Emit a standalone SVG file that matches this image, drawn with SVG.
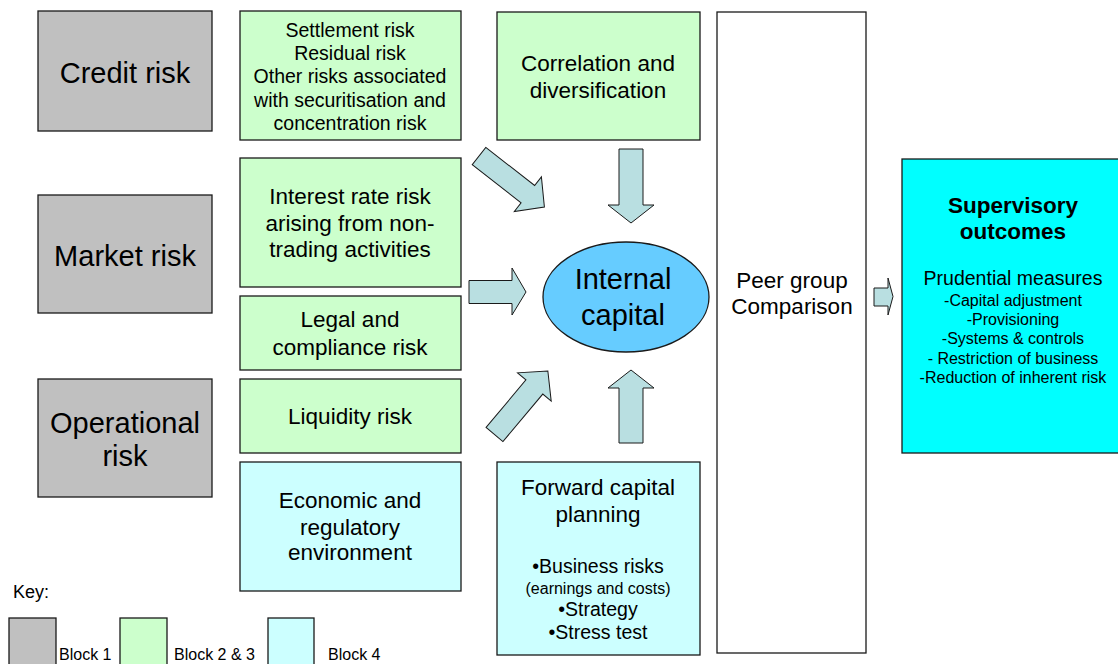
<svg xmlns="http://www.w3.org/2000/svg" width="1118" height="664" viewBox="0 0 1118 664">
<style>
text{font-family:"Liberation Sans",Arial,sans-serif;fill:#000;text-anchor:middle}
.box{stroke:#1a1a1a;stroke-width:1.3}
.b1{fill:#C0C0C0}
.b2{fill:#CCFFCC}
.b4{fill:#CCFFFF}
.arr{fill:#B9DFE1;stroke:#1a1a1a;stroke-width:1}
.big{font-size:29px}
.m21{font-size:22.5px}
.s18{font-size:19.5px}
.k{font-size:16px;text-anchor:start}
</style>
<defs>
<path id="diag" d="M0,-11 L62,-11 L62,-22 L83,0 L62,22 L62,11 L0,11 Z"/>
</defs>
<rect width="1118" height="664" fill="#fff"/>

<g id="credit"><rect class="box b1" x="38" y="11" width="174" height="120"/><text class="big" x="125" y="83">Credit risk</text></g>
<g id="market"><rect class="box b1" x="38" y="195" width="174" height="118"/><text class="big" x="125" y="266">Market risk</text></g>
<g id="operational"><rect class="box b1" x="38" y="379" width="174" height="118"/><text class="big" x="125" y="433">Operational</text><text class="big" x="125" y="466">risk</text></g>

<g id="settlement"><rect class="box b2" x="240" y="11" width="221" height="129"/>
<text class="s18" x="350" y="37">Settlement risk</text>
<text class="s18" x="350" y="60">Residual risk</text>
<text class="s18" x="350" y="83">Other risks associated</text>
<text class="s18" x="350" y="107">with securitisation and</text>
<text class="s18" x="350" y="130">concentration risk</text></g>
<g id="interest"><rect class="box b2" x="240" y="158" width="221" height="129"/>
<text class="m21" x="350" y="204">Interest rate risk</text>
<text class="m21" x="350" y="231">arising from non-</text>
<text class="m21" x="350" y="257">trading activities</text></g>
<g id="legal"><rect class="box b2" x="240" y="296" width="221" height="74"/>
<text class="m21" x="350" y="327">Legal and</text>
<text class="m21" x="350" y="355">compliance risk</text></g>
<g id="liquidity"><rect class="box b2" x="240" y="379" width="221" height="74"/>
<text class="m21" x="350" y="424">Liquidity risk</text></g>
<g id="economic"><rect class="box b4" x="240" y="462" width="221" height="129"/>
<text class="m21" x="350" y="508">Economic and</text>
<text class="m21" x="350" y="535">regulatory</text>
<text class="m21" x="350" y="560">environment</text></g>

<g id="correlation"><rect class="box b2" x="497" y="12" width="203" height="128"/>
<text class="m21" x="598" y="71">Correlation and</text>
<text class="m21" x="598" y="98">diversification</text></g>
<g id="forward"><rect class="box b4" x="497" y="462" width="203" height="193"/>
<text class="m21" x="598" y="495">Forward capital</text>
<text class="m21" x="598" y="522">planning</text>
<text class="s18" x="598" y="573">•Business risks</text>
<text x="598" y="594" font-size="16">(earnings and costs)</text>
<text class="s18" x="598" y="616">•Strategy</text>
<text class="s18" x="598" y="639">•Stress test</text></g>

<g id="internal"><ellipse cx="626" cy="297" rx="83" ry="55" fill="#66CCFF" stroke="#1a1a1a" stroke-width="1.3"/>
<text x="623" y="289" font-size="29">Internal</text>
<text x="623" y="325" font-size="29">capital</text></g>

<g id="peer"><rect class="box" fill="#fff" x="717" y="12" width="149" height="641"/>
<text x="792" y="288" font-size="22.5">Peer group</text>
<text x="792" y="314" font-size="22.5">Comparison</text></g>

<g id="supervisory"><rect class="box" fill="#00FFFF" x="902" y="159" width="220" height="294"/>
<text x="1013" y="213" font-size="22.5" font-weight="bold">Supervisory</text>
<text x="1013" y="239" font-size="22.5" font-weight="bold">outcomes</text>
<text x="1013" y="285" font-size="19.5">Prudential measures</text>
<text x="1013" y="306" font-size="16">-Capital adjustment</text>
<text x="1013" y="325" font-size="16">-Provisioning</text>
<text x="1013" y="344" font-size="16">-Systems &amp; controls</text>
<text x="1013" y="364" font-size="16">- Restriction of business</text>
<text x="1013" y="383" font-size="16">-Reduction of inherent risk</text></g>

<g id="connectors">
<use href="#diag" class="arr" transform="translate(479,156) rotate(38)"/>
<use href="#diag" class="arr" transform="translate(494.5,434.5) rotate(-50)"/>
<path class="arr" d="M469,280.5 L512,280.5 L512,268 L526,292 L512,315 L512,303.5 L469,303.5 Z"/>
<path class="arr" d="M619,149 L643,149 L643,205 L654,205 L631,223 L608,205 L619,205 Z"/>
<path class="arr" d="M619,443 L643,443 L643,388 L654,388 L631,370 L608,388 L619,388 Z"/>
<path class="arr" d="M874,288 L888,288 L888,278 L893,296.5 L888,315 L888,306 L874,306 Z"/>
</g>

<g id="key">
<text x="13" y="598" style="font-size:18px;text-anchor:start">Key:</text>
<rect class="box b1" x="9" y="618" width="47" height="60"/>
<text class="k" x="59" y="660">Block 1</text>
<rect class="box b2" x="120" y="618" width="47" height="60"/>
<text class="k" x="174" y="660">Block 2 &amp; 3</text>
<rect class="box b4" x="268" y="618" width="46" height="60"/>
<text class="k" x="328" y="660">Block 4</text>
</g>
</svg>
